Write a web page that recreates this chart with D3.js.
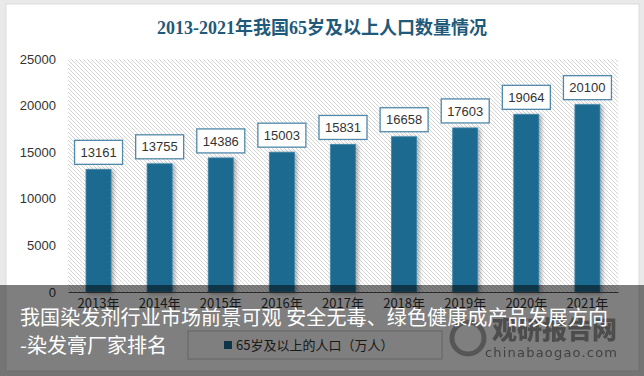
<!DOCTYPE html>
<html><head><meta charset="utf-8">
<script src="https://cdn.jsdelivr.net/npm/d3@7"></script>
<style>html,body{margin:0;padding:0;background:#e9e9e9;}svg{display:block;}</style>
</head><body>
<svg id="c" width="644" height="376"></svg>
<script>
const categories = ["2013年","2014年","2015年","2016年","2017年","2018年","2019年","2020年","2021年"];
const values = [13161,13755,14386,15003,15831,16658,17603,19064,20100];
const yTicks = [0,5000,10000,15000,20000,25000];
const title = "2013-2021年我国65岁及以上人口数量情况";
const seriesName = "65岁及以上的人口（万人）";
const overlayLines = ["我国染发剂行业市场前景可观 安全无毒、绿色健康成产品发展方向","-染发膏厂家排名"];

const svg = d3.select("#c");
const defs = svg.append("defs");
const pat = defs.append("pattern").attr("id","hatch").attr("patternUnits","userSpaceOnUse")
  .attr("width",4).attr("height",4);
pat.append("rect").attr("width",4).attr("height",4).attr("fill","#fff");
pat.append("path").attr("d","M-1,-1 L5,5 M-1,3 L1,5 M3,-1 L5,1").attr("stroke","#d4d4d4").attr("stroke-width",1);
const f = defs.append("filter").attr("id","sh").attr("x","-30%").attr("y","-10%").attr("width","170%").attr("height","130%");
f.append("feDropShadow").attr("dx",2).attr("dy",1).attr("stdDeviation",2).attr("flood-color","#000").attr("flood-opacity",0.35);

// panel
svg.append("rect").attr("x",0).attr("y",0).attr("width",644).attr("height",376).attr("fill","#e9e9e9");
svg.append("rect").attr("x",6).attr("y",4).attr("width",633).attr("height",367).attr("fill","#fff")
  .attr("stroke","#dcdcdc");

svg.append("text").attr("x",322).attr("y",34).attr("text-anchor","middle")
  .attr("font-family","'Liberation Serif','Noto Sans CJK SC',serif").attr("font-weight","bold")
  .attr("font-size",18).attr("fill","#1f5a7a").text(title);

const x = d3.scaleBand().domain(categories).range([68,618]).paddingInner(0.59).paddingOuter(0.295);
const y = d3.scaleLinear().domain([0,25000]).range([292,59]);

svg.append("rect").attr("x",68).attr("y",59).attr("width",550).attr("height",233).attr("fill","url(#hatch)");

const yAxis = svg.append("g").attr("transform","translate(56,0)")
  .call(d3.axisLeft(y).tickValues(yTicks).tickSize(0).tickPadding(0).tickFormat(d3.format("d")));
yAxis.select(".domain").remove();
yAxis.selectAll("text").attr("font-family","'Liberation Sans','DejaVu Sans',sans-serif").attr("font-size",13).attr("fill","#333");

svg.append("g").selectAll("rect").data(values).join("rect")
  .attr("x",(d,i)=>x(categories[i])).attr("width",x.bandwidth())
  .attr("y",d=>y(d)).attr("height",d=>y(0)-y(d))
  .attr("fill","#1e6b90").attr("stroke","#3f86aa").attr("stroke-width",0.8).attr("filter","url(#sh)");

const xAxis = svg.append("g").attr("transform","translate(0,292)")
  .call(d3.axisBottom(x).tickSize(0).tickPadding(7));
xAxis.select(".domain").attr("stroke","#555").attr("stroke-width",1.2);
xAxis.selectAll("text").attr("font-family","'Noto Sans CJK SC',sans-serif").attr("font-size",13).attr("fill","#333");

const lab = svg.append("g").selectAll("g").data(values).join("g")
  .attr("transform",(d,i)=>`translate(${x(categories[i])+x.bandwidth()/2},${y(d)-17})`);
lab.append("rect").attr("x",-24).attr("y",-12).attr("width",48).attr("height",24)
  .attr("fill","#fff").attr("stroke","#4f88aa").attr("stroke-width",1.3);
lab.append("text").attr("text-anchor","middle").attr("dy","0.36em")
  .attr("font-family","'Liberation Sans','DejaVu Sans',sans-serif").attr("font-size",13).attr("fill","#333")
  .text(d=>d);

// legend
const lg = svg.append("g");
lg.append("rect").attr("x",188).attr("y",331).attr("width",254).attr("height",28).attr("fill","#fff").attr("stroke","#c8c8c8");
lg.append("rect").attr("x",224).attr("y",341).attr("width",8).attr("height",8).attr("fill","#1e6b90");
lg.append("text").attr("x",236).attr("y",350).attr("font-family","'Noto Sans CJK SC',sans-serif")
  .attr("font-size",13).attr("fill","#333").text(seriesName);

// watermark logo
const wm = svg.append("g");
wm.append("circle").attr("cx",468).attr("cy",338).attr("r",16).attr("fill","none").attr("stroke","#8a8a8a").attr("stroke-width",5).attr("opacity",0.7);
wm.append("text").attr("x",492).attr("y",339).attr("font-family","'Noto Sans CJK SC',sans-serif").attr("font-weight","900")
  .attr("font-size",25).attr("fill","#7a7a7a").attr("opacity",0.75).text("观研报告网");
wm.append("text").attr("x",485).attr("y",357).attr("font-family","'DejaVu Sans',sans-serif")
  .attr("font-size",13).attr("textLength",132).attr("fill","#6e6e6e").attr("opacity",0.85).text("chinabaogao.com");

// overlay banner
svg.append("rect").attr("x",0).attr("y",285).attr("width",644).attr("height",91).attr("fill","#000").attr("opacity",0.5);
svg.append("g").selectAll("text").data(overlayLines).join("text")
  .attr("x",20).attr("y",(d,i)=>325+i*28)
  .attr("font-family","'Noto Sans CJK SC',sans-serif").attr("font-size",20).attr("fill","#fff")
  .attr("textLength",(d,i)=>i===0?588:null).attr("lengthAdjust","spacing")
  .text(d=>d);
</script>
</body></html>
